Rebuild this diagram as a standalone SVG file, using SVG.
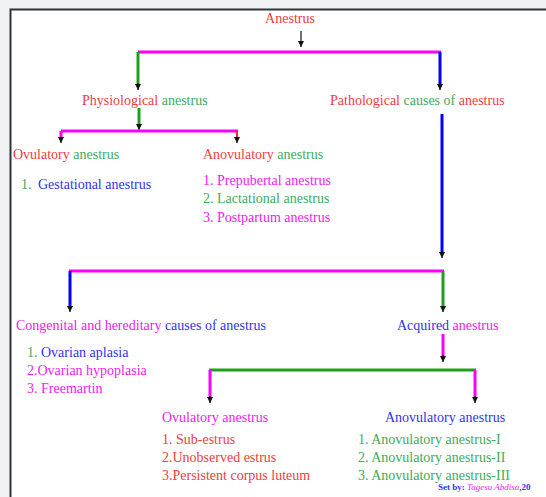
<svg xmlns="http://www.w3.org/2000/svg" width="546" height="497" viewBox="0 0 546 497">
<defs>
<marker id="ah" viewBox="0 0 10 10" refX="10" refY="5" markerWidth="6" markerHeight="6" markerUnits="userSpaceOnUse" orient="auto">
<path d="M0,0 L10,5 L0,10 Z" fill="#111"/>
</marker>
</defs>
<style>
text{font-family:"Liberation Serif","Times New Roman",serif;font-size:14px}
.r{fill:#f03c3c}.g{fill:#3cac5a}.m{fill:#f020f0}.b{fill:#3232f0}
.lm{stroke:#ff00ff;stroke-width:3;fill:none}
.lg{stroke:#1ea01e;stroke-width:3;fill:none}
.lb{stroke:#0000ff;stroke-width:3;fill:none}
.lr{stroke:#ff2020;stroke-width:2;fill:none}
.lk{stroke:#111;stroke-width:1.2;fill:none}
</style>
<rect x="0" y="0" width="546" height="497" fill="#f1f2f3"/>
<rect x="10" y="9" width="536" height="488" fill="#fff"/>
<path d="M10.5,497 V9.5 H546" stroke="#333" stroke-width="2" fill="none"/>

<g id="connectors">
<path class="lk" d="M301,31 V47" marker-end="url(#ah)"/>
<path class="lm" d="M138,52 H441"/>
<path class="lg" d="M138,52 V84"/>
<path class="lk" d="M138,83 V90" marker-end="url(#ah)"/>
<path class="lb" d="M440,52 V84"/>
<path class="lk" d="M440,83 V90" marker-end="url(#ah)"/>

<path class="lg" d="M139,108 V126"/>
<path class="lk" d="M139,124 V130" marker-end="url(#ah)"/>
<path class="lm" d="M61,131 H238"/>
<path class="lm" d="M61,131 V138"/>
<path class="lk" d="M61,137 V143" marker-end="url(#ah)"/>
<path class="lr" d="M237,131 V138"/>
<path class="lk" d="M237,137 V143" marker-end="url(#ah)"/>

<path class="lb" d="M442,114 V253"/>
<path class="lk" d="M442,252 V258" marker-end="url(#ah)"/>
<path class="lm" d="M69,271 H444"/>
<path class="lb" d="M70,271 V307"/>
<path class="lk" d="M70,306 V312" marker-end="url(#ah)"/>
<path class="lg" d="M443,271 V307"/>
<path class="lk" d="M443,306 V312" marker-end="url(#ah)"/>

<path class="lm" d="M443,334 V356"/>
<path class="lk" d="M443,355 V362" marker-end="url(#ah)"/>
<path class="lg" d="M209,370 H476"/>
<path class="lm" d="M210,370 V397"/>
<path class="lk" d="M210,396 V403" marker-end="url(#ah)"/>
<path class="lm" d="M475,370 V397"/>
<path class="lk" d="M475,396 V403" marker-end="url(#ah)"/>
</g>

<g id="n-anestrus"><text x="290" y="23" text-anchor="middle" class="r">Anestrus</text></g>
<g id="n-physiological"><text x="82" y="105"><tspan class="r">Physiological</tspan> <tspan class="g">anestrus</tspan></text></g>
<g id="n-pathological"><text x="330" y="105"><tspan class="r">Pathological</tspan> <tspan class="g">causes of</tspan> <tspan class="r">anestrus</tspan></text></g>
<g id="n-ovulatory1">
<text x="13" y="159"><tspan class="r">Ovulatory</tspan> <tspan class="g">anestrus</tspan></text>
<text x="21" y="189"><tspan class="g">1.</tspan><tspan class="b" x="38">Gestational anestrus</tspan></text>
</g>
<g id="n-anovulatory1">
<text x="203" y="159"><tspan class="r">Anovulatory</tspan> <tspan class="g">anestrus</tspan></text>
<text x="203" y="185" class="m">1. Prepubertal anestrus</text>
<text x="203" y="203" class="g">2. Lactational anestrus</text>
<text x="203" y="222" class="m">3. Postpartum anestrus</text>
</g>
<g id="n-congenital">
<text x="16" y="330"><tspan class="m">Congenital and hereditary</tspan> <tspan class="b">causes of anestrus</tspan></text>
<text x="27" y="357"><tspan class="g">1.</tspan> <tspan class="b">Ovarian aplasia</tspan></text>
<text x="27" y="375" class="m">2.Ovarian hypoplasia</text>
<text x="27" y="393" class="m">3. Freemartin</text>
</g>
<g id="n-acquired"><text x="397" y="330"><tspan class="b">Acquired</tspan> <tspan class="m">anestrus</tspan></text></g>
<g id="n-ovulatory2">
<text x="162" y="422" class="m">Ovulatory anestrus</text>
<text x="162" y="444" class="r">1. Sub-estrus</text>
<text x="162" y="462" class="r">2.Unobserved estrus</text>
<text x="162" y="480" class="r">3.Persistent corpus luteum</text>
</g>
<g id="n-anovulatory2">
<text x="385" y="422" class="b">Anovulatory anestrus</text>
<text x="358" y="444" class="g">1. Anovulatory anestrus-I</text>
<text x="358" y="462" class="g">2. Anovulatory anestrus-II</text>
<text x="358" y="480" class="g">3. Anovulatory anestrus-III</text>
</g>
<g id="credit"><text x="438" y="490" style="font-size:9px"><tspan class="b" font-weight="bold">Set by: </tspan><tspan class="m" font-style="italic">Tagesu Abdisa</tspan><tspan class="b" font-weight="bold">,20</tspan></text></g>
</svg>
